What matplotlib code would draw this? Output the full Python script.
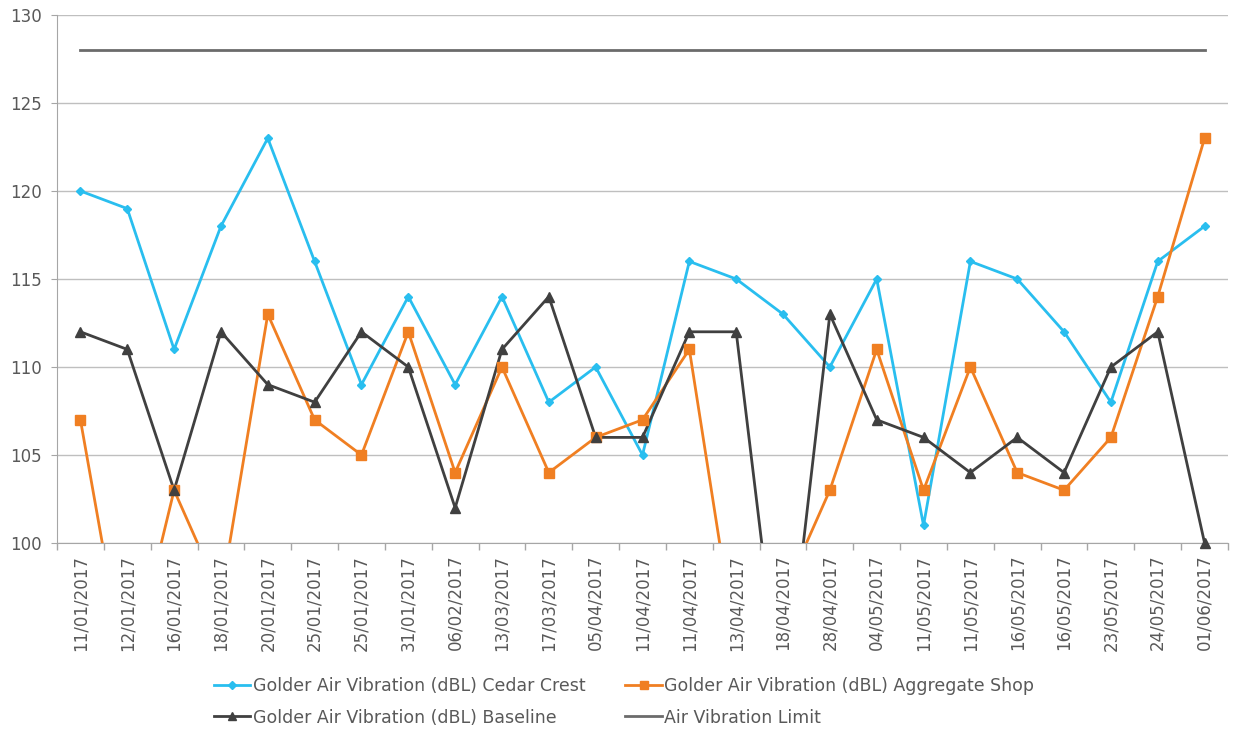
import numpy as np
import matplotlib
matplotlib.use("Agg")
import matplotlib.pyplot as plt
from matplotlib.lines import Line2D

dates = ["11/01/2017", "12/01/2017", "16/01/2017", "18/01/2017", "20/01/2017",
         "25/01/2017", "25/01/2017", "31/01/2017", "06/02/2017", "13/03/2017",
         "17/03/2017", "05/04/2017", "11/04/2017", "11/04/2017", "13/04/2017",
         "18/04/2017", "28/04/2017", "04/05/2017", "11/05/2017", "11/05/2017",
         "16/05/2017", "16/05/2017", "23/05/2017", "24/05/2017", "01/06/2017"]
cedar = [120, 119, 111, 118, 123, 116, 109, 114, 109, 114, 108, 110, 105,
         116, 115, 113, 110, 115, 101, 116, 115, 112, 108, 116, 118]
aggregate = [107, 92, 103, 97, 113, 107, 105, 112, 104, 110, 104, 106, 107,
             111, 94, 97, 103, 111, 103, 110, 104, 103, 106, 114, 123]
baseline = [112, 111, 103, 112, 109, 108, 112, 110, 102, 111, 114, 106, 106,
            112, 112, 90, 113, 107, 106, 104, 106, 104, 110, 112, 100]
limit = [128] * len(dates)

names = ["Golder Air Vibration (dBL) Cedar Crest",
         "Golder Air Vibration (dBL) Aggregate Shop",
         "Golder Air Vibration (dBL) Baseline",
         "Air Vibration Limit"]

c_cedar = "#29BEEF"
c_agg = "#F07F22"
c_base = "#404040"
c_lim = "#6B6B6B"
txt = "#595959"

fig = plt.figure(figsize=(12.39, 7.29), dpi=100)
ax = fig.add_axes([57 / 1239, 1 - 543 / 729, (1228 - 57) / 1239, (543 - 15) / 729])

x = np.arange(len(dates)) + 0.5
ymin, ymax = 100, 130

def series(vals, color, marker, ms):
    v = np.array(vals, dtype=float)
    ax.plot(x, v, color=color, lw=2, zorder=3)
    vm = np.where(v >= ymin, v, np.nan)
    ax.plot(x, vm, color=color, lw=0, marker=marker, ms=ms, mec=color, mfc=color,
            clip_on=False, zorder=4)

series(cedar, c_cedar, "D", 4.5)
series(aggregate, c_agg, "s", 6.5)
series(baseline, c_base, "^", 7)
ax.plot(x, limit, color=c_lim, lw=2, zorder=3)

ax.set_xlim(0, len(dates))
ax.set_ylim(ymin, ymax)
ax.set_yticks(np.arange(100, 131, 5))
ax.yaxis.grid(True, color="#BFBFBF", lw=1)
ax.set_axisbelow(True)

ax.set_xticks(x)
ax.set_xticklabels(dates, rotation=90, fontsize=12, color=txt)
ax.set_xticks(np.arange(0, len(dates) + 1), minor=True)
ax.tick_params(axis="x", which="major", length=0, pad=8.5)
ax.tick_params(axis="x", which="minor", length=5, color="#A6A6A6", width=1)
ax.tick_params(axis="y", length=4, color="#A6A6A6", labelsize=12, labelcolor=txt, pad=7)

for s in ["top", "right"]:
    ax.spines[s].set_visible(False)
ax.spines["left"].set_color("#A6A6A6")
ax.spines["bottom"].set_color("#A6A6A6")

handles = [
    Line2D([], [], color=c_cedar, lw=2, marker="D", ms=4.5),
    Line2D([], [], color=c_base, lw=2, marker="^", ms=6),
    Line2D([], [], color=c_agg, lw=2, marker="s", ms=6),
    Line2D([], [], color=c_lim, lw=2),
]
labels = [names[0], names[2], names[1], names[3]]
leg = fig.legend(handles, labels, ncol=2, loc="center", bbox_to_anchor=(624 / 1239, 1 - 702 / 729),
                 frameon=False, fontsize=12.5, handlelength=2.1, handletextpad=0.15,
                 columnspacing=2.3, labelspacing=0.75, labelcolor=txt)

fig.savefig("out.png", dpi=100)
